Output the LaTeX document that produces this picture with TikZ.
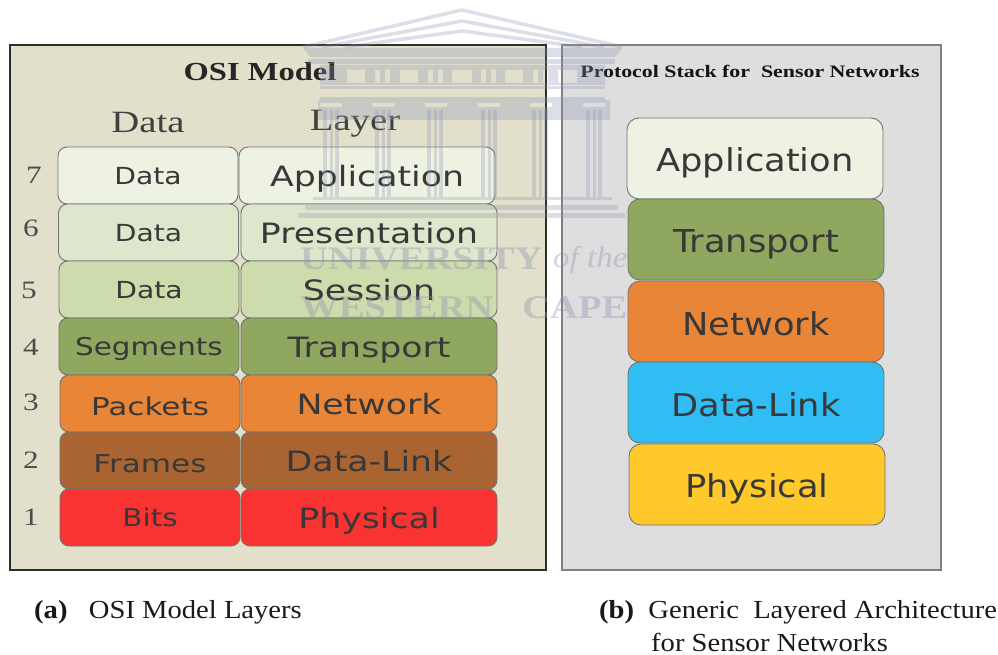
\documentclass[tikz,border=0pt]{standalone}
\usepackage{fontspec}
\setmainfont[FakeStretch=1.1]{Liberation Serif}
\newfontfamily\labb[FakeStretch=1.24]{DejaVu Sans}
\newfontfamily\labr[FakeStretch=1.12]{DejaVu Sans}
\newfontfamily\labm[FakeStretch=1.2]{DejaVu Sans}
\newfontfamily\labl[FakeStretch=1.27]{DejaVu Sans}
\newfontfamily\serifw[FakeStretch=1.25]{Liberation Serif}
\newfontfamily\serifx[FakeStretch=1.17]{Liberation Serif}
\definecolor{c7}{HTML}{EEF2E3}
\definecolor{c6}{HTML}{DEE7CB}
\definecolor{c5}{HTML}{CDDCAC}
\definecolor{c4}{HTML}{8FA75E}
\definecolor{c3}{HTML}{E98537}
\definecolor{c2}{HTML}{A96431}
\definecolor{c1}{HTML}{F93232}
\definecolor{cb}{HTML}{2FBDF3}
\definecolor{cy}{HTML}{FFC92C}
\definecolor{wm}{HTML}{8E94B4}
\definecolor{tan}{HTML}{E2DFCB}
\newcommand{\sbig}{\rule[-6pt]{0pt}{33pt}}
\newcommand{\smid}{\rule[-6pt]{0pt}{30pt}}
\newcommand{\slow}{\rule[-6pt]{0pt}{36pt}}
\newcommand{\srig}{\rule[-6pt]{0pt}{39pt}}
\tikzset{x=1pt,y=-1pt,
 panel/.style={draw,anchor=north west,inner sep=0pt,outer sep=0pt},
 layerbox/.style={draw=black!55,line width=.9pt,rounded corners=9pt,inner sep=0pt,outer sep=0pt,anchor=north west,text=black!78,align=center},
 big/.style={layerbox,minimum width=256pt,minimum height=57pt,font=\labb\fontsize{28}{30}\selectfont},
 rbig/.style={layerbox,rounded corners=12pt,minimum width=256pt,minimum height=81pt,font=\labr\fontsize{31.5}{33}\selectfont},
 mid/.style={layerbox,minimum width=180pt,minimum height=57pt,font=\labm\fontsize{23.5}{25}\selectfont},
 low/.style={layerbox,minimum width=180pt,minimum height=57pt,font=\labl\fontsize{24.5}{26}\selectfont},
 num/.style={font=\serifw\fontsize{25}{26}\selectfont,text=black!70},
 head/.style={font=\serifw\fontsize{31}{33}\selectfont,text=black!75},
 captext/.style={font=\fontsize{26}{28}\selectfont,anchor=west,inner sep=0pt,text=black!90,align=left},
 wmark/.style={font=\serifx\fontsize{33}{35}\selectfont\bfseries,text=wm,opacity=.4,anchor=west,inner sep=0pt},
 chev/.style={draw=wm,line width=3.5pt,opacity=.3,miter limit=10},
}
\begin{document}
\begin{tikzpicture}
\useasboundingbox (0,0) rectangle (998,655);
\fill[white] (0,0) rectangle (998,655);
% panels
\node[panel,fill=black!13,draw=black!50,line width=1.2pt,minimum width=379pt,minimum height=525pt] (right) at (562,45) {};
\node[panel,fill=tan,draw=black!82,line width=2.8pt,minimum width=536pt,minimum height=525pt] (left) at (10,45) {};
% titles
\node[font=\serifw\bfseries\fontsize{26}{27}\selectfont,text=black!85] (t1) at (260,72) {OSI Model};
\node[font=\serifw\bfseries\fontsize{17.5}{18}\selectfont,text=black!92] (t2) at (750,71) {Protocol Stack for\ \ Sensor Networks};
\node[head] (hd) at (148,123) {Data};
\node[head] (hl) at (355,124) {Layer};
% numbers
\node[num] (n7) at (34,175) {7};
\node[num] (n6) at (31,228) {6};
\node[num] (n5) at (29,290) {5};
\node[num] (n4) at (31,347) {4};
\node[num] (n3) at (31,402) {3};
\node[num] (n2) at (31,460) {2};
\node[num] (n1) at (31,517) {1};
% data column
\node[mid,fill=c7] (d7) at (58,147) {\smid Data};
\node[mid,fill=c6] (d6) at (58.5,204) {\smid Data};
\node[mid,fill=c5] (d5) at (59,261) {\smid Data};
\node[low,font=\labm\fontsize{24.5}{26}\selectfont,fill=c4] (d4) at (59,318) {\smid Segments};
\node[low,fill=c3] (d3) at (60,375) {\slow Packets};
\node[low,fill=c2] (d2) at (60,432) {\slow Frames};
\node[low,font=\labm\fontsize{24.5}{26}\selectfont,fill=c1] (d1) at (60,489) {\smid Bits};
% layer column
\node[big,fill=c7] (l7) at (239,147) {\sbig Application};
\node[big,fill=c6] (l6) at (241,204) {\sbig Presentation};
\node[big,fill=c5] (l5) at (241,261) {\sbig Session};
\node[big,fill=c4] (l4) at (241,318) {\sbig Transport};
\node[big,fill=c3] (l3) at (241,375) {\sbig Network};
\node[big,fill=c2] (l2) at (241,432) {\sbig Data-Link};
\node[big,fill=c1] (l1) at (241,489) {\sbig Physical};
% right stack
\node[rbig,fill=c7] (r5) at (627,118) {\srig Application};
\node[rbig,fill=c4] (r4) at (628,199) {\srig Transport};
\node[rbig,fill=c3] (r3) at (628,281) {\srig Network};
\node[rbig,fill=cb] (r2) at (628,362) {\srig Data-Link};
\node[rbig,fill=cy] (r1) at (629,444) {\srig Physical};
% watermark building
\draw[chev] (303,47) -- (462,10) -- (622,47);
\draw[chev] (322,47) -- (462,21) -- (604,47);
\draw[chev] (345,47) -- (462,31) -- (582,47);
\begin{scope}[opacity=.3,wm]
 \fill (303,48) -- (622,48) -- (615,57) -- (310,57) -- cycle;
 \fill (308,59) rectangle (615,64);
 \fill[even odd rule] (320,65) rectangle (605,85)
   (347,70) rectangle (365,83) (400,70) rectangle (418,83) (452,70) rectangle (472,83) (505,70) rectangle (523,83) (558,70) rectangle (577,83)
   (375,70) rectangle (380,83) (385,70) rectangle (390,83) (428,70) rectangle (433,83) (438,70) rectangle (443,83)
   (481,70) rectangle (486,83) (491,70) rectangle (496,83) (533,70) rectangle (538,83) (543,70) rectangle (548,83);
 \fill (320,86) rectangle (605,89);
 \fill (320,97) rectangle (605,100);
 \fill[even odd rule] (318,100) rectangle (610,120)
   (320,103) rectangle (342,107) (372,103) rectangle (394,107) (425,103) rectangle (447,107) (478,103) rectangle (500,107) (530,103) rectangle (552,107) (583,103) rectangle (605,107);
 \foreach \cx in {331,383,435,489,540,594}{
   \fill (\cx-8,110) rectangle (\cx-4,197);
   \fill (\cx-1.5,110) rectangle (\cx+1.5,197);
   \fill (\cx+4,110) rectangle (\cx+8,197);
 }
 \fill (313,197) rectangle (612,200);
 \fill (305,205) rectangle (618,210);
 \fill (298,213) rectangle (625,218);
\end{scope}
\node[wmark] (w1) at (300,259) {UNIVERSITY};
\node[wmark,font=\itshape\fontsize{30}{32}\selectfont] (w2) at (553,260) {of the};
\node[wmark] (w3) at (300,308) {WESTERN\ \ \ CAPE};
% captions
\node[captext] (ca) at (34,612) {\textbf{(a)}\ \ \ OSI Model Layers};
\node[captext] (cb1) at (599,612) {\textbf{(b)}\ \ Generic\ \ Layered Architecture};
\node[captext] (cb2) at (651,642) {for Sensor Networks};
\end{tikzpicture}
\end{document}
